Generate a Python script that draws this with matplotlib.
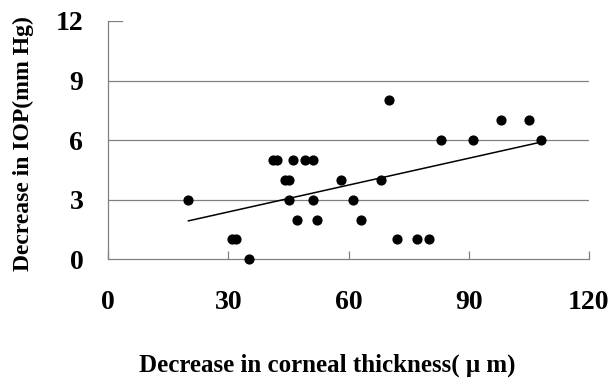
import numpy as np
import matplotlib
matplotlib.use("Agg")
import matplotlib.pyplot as plt

# decrease in corneal thickness (um) vs decrease in IOP (mm Hg)
thickness = [20, 31, 32, 35, 41, 42, 46, 49, 51, 44, 45, 45, 51, 47, 52,
             58, 61, 63, 68, 70, 72, 77, 80, 83, 91, 98, 105, 108]
iop = [3, 1, 1, 0, 5, 5, 5, 5, 5, 4, 4, 3, 3, 2, 2,
       4, 3, 2, 4, 8, 1, 1, 1, 6, 6, 7, 7, 6]
x_ticks = [0, 30, 60, 90, 120]
y_ticks = [0, 3, 6, 9, 12]

SERIF = ["Liberation Serif", "Noto Sans CJK SC"]
GRID = "#808080"
W, H = 613, 385

fig = plt.figure(figsize=(W / 100, H / 100), dpi=100)
ax = fig.add_axes([108.3 / W, 1 - 259.3 / H, (589 - 108.3) / W, (259.3 - 21) / H])
ax.set_xlim(0, 120)
ax.set_ylim(0, 12)

for y in y_ticks[1:-1]:
    ax.axhline(y, color=GRID, lw=0.9, zorder=1)
ax.axhline(12, xmin=0, xmax=0.028, color=GRID, lw=0.9, zorder=1)

for s in ["top", "right"]:
    ax.spines[s].set_visible(False)
for s in ["left", "bottom"]:
    ax.spines[s].set_color(GRID)
    ax.spines[s].set_linewidth(0.9)

ax.set_xticks(x_ticks)
ax.set_yticks(y_ticks)
ax.tick_params(axis="x", direction="in", length=6, color=GRID, width=0.9, pad=22)
ax.tick_params(axis="y", length=0, pad=18)
for lab in ax.get_xticklabels() + ax.get_yticklabels():
    lab.set_family(SERIF)
    lab.set_fontweight("bold")
    lab.set_fontsize(20)

ax.scatter(thickness, iop, s=40, color="black", zorder=3, clip_on=False)

k, b = np.polyfit(thickness, iop, 1)
xs = np.array([min(thickness), max(thickness)])
ax.plot(xs, k * xs + b, color="black", lw=1.1, zorder=2)

fig.text(327 / W, 1 - 372 / H, "Decrease in corneal thickness( μ m)",
         family=SERIF, fontweight="bold", fontsize=18,
         ha="center", va="baseline")
fig.text(23 / W, 1 - 144 / H, "Decrease in IOP(mm Hg)", family=SERIF,
         fontweight="bold", fontsize=17, rotation=90,
         ha="center", va="center")

fig.savefig("out.png", dpi=100, facecolor="white")
